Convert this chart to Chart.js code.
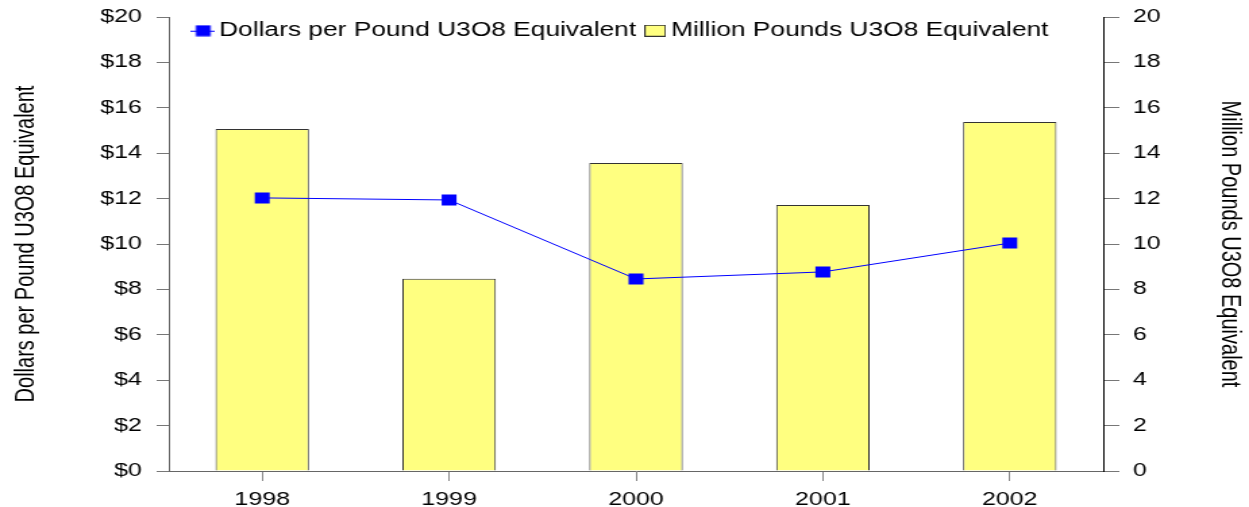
<!DOCTYPE html>
<html>
<head>
<meta charset="utf-8">
<script src="https://cdn.jsdelivr.net/npm/chart.js@4/dist/chart.umd.min.js"></script>
<style>
  html, body { margin: 0; padding: 0; background: #fff; overflow: hidden; }
  /* the reference is stretched sideways, so draw narrow and scale x */
  #wrap { width: 925px; height: 507px; transform: scaleX(1.3503); transform-origin: 0 0; }
</style>
</head>
<body>
<div id="wrap"><canvas id="chart" width="925" height="507"></canvas></div>
<script>
// data
const years = ['1998', '1999', '2000', '2001', '2002'];
const pricePerPound = [12.03, 11.94, 8.46, 8.77, 10.04];   // dollars, left axis
const millionPounds = [15.07, 8.47, 13.57, 11.72, 15.37];   // right axis
const leftTicks = [0, 2, 4, 6, 8, 10, 12, 14, 16, 18, 20];

const FONT = 'Liberation Sans, Arial, Helvetica, sans-serif';

// legend symbols: line with square marker, and yellow box
function lineIcon() {
  const c = document.createElement('canvas');
  c.width = 18; c.height = 12;
  const g = c.getContext('2d');
  g.strokeStyle = '#0000ff'; g.lineWidth = 1;
  g.beginPath(); g.moveTo(0, 6.5); g.lineTo(18, 6.5); g.stroke();
  g.fillStyle = '#0000ff';
  g.fillRect(3.5, 0.5, 11, 11);
  return c;
}
function boxIcon() {
  const c = document.createElement('canvas');
  c.width = 16; c.height = 12;
  const g = c.getContext('2d');
  g.fillStyle = '#ffff80';
  g.fillRect(0.5, 0.5, 15, 11);
  g.strokeStyle = '#333'; g.lineWidth = 1;
  g.strokeRect(0.5, 0.5, 15, 11);
  return c;
}
const icons = [lineIcon(), boxIcon()];

// legend sits inside the plot area, so give it no height
const legendInside = {
  id: 'legendInside',
  beforeInit(chart) {
    const fit = chart.legend.fit;
    chart.legend.fit = function () {
      fit.bind(chart.legend)();
      this.height = 0;
    };
  },
  afterLayout(chart) {
    // legend clips to its own box, so open it up
    chart.legend.top = 9;
    chart.legend.bottom = 60;
  }
};

// fixed axis sizes, no extra label padding above the plot
function fixY(width) {
  return (s) => { s.width = width; s.paddingTop = 0; s.paddingBottom = 0; };
}

const ctx = document.getElementById('chart').getContext('2d');
new Chart(ctx, {
  type: 'bar',
  data: {
    labels: years,
    datasets: [{
      type: 'line',
      label: 'Dollars per Pound U3O8 Equivalent',
      data: pricePerPound,
      yAxisID: 'y',
      borderColor: '#0000ff',
      backgroundColor: '#0000ff',
      borderWidth: 1,
      pointStyle: 'rect',
      pointRadius: 7.8,
      pointBorderWidth: 0,
      order: 0
    }, {
      type: 'bar',
      label: 'Million Pounds U3O8 Equivalent',
      data: millionPounds,
      yAxisID: 'y1',
      backgroundColor: '#ffff80',
      borderColor: '#333',
      borderWidth: 1,
      barPercentage: 0.5,
      categoryPercentage: 1,
      order: 1
    }]
  },
  options: {
    responsive: false,
    animation: false,
    devicePixelRatio: 1,
    layout: { padding: { top: 17, left: 0, right: 0, bottom: 0 } },
    plugins: {
      tooltip: { enabled: false },
      legend: {
        display: true,
        position: 'top',
        labels: {
          usePointStyle: true,
          pointStyleWidth: 4,
          padding: 12,
          color: '#000',
          font: { family: FONT, size: 19.5 },
          generateLabels: (chart) => chart.data.datasets.map((ds, i) => ({
            text: ds.label,
            pointStyle: icons[i],
            fillStyle: ds.backgroundColor,
            strokeStyle: ds.borderColor,
            lineWidth: 0,
            hidden: false,
            datasetIndex: i
          }))
        }
      }
    },
    scales: {
      x: {
        offset: true,
        afterFit: (s) => { s.height = 36; },
        border: { display: true, color: '#666', width: 1 },
        grid: { display: true, offset: false, drawOnChartArea: false, tickLength: 10, color: '#888' },
        ticks: { color: '#000', padding: 8, font: { family: FONT, size: 18.5 } }
      },
      y: {
        position: 'left',
        min: 0, max: 20,
        afterFit: fixY(125),
        afterBuildTicks: (s) => { s.ticks = leftTicks.map(v => ({ value: v })); },
        border: { display: true, color: '#666', width: 1 },
        grid: { display: true, drawOnChartArea: false, tickLength: 9, color: '#777' },
        ticks: { color: '#000', padding: 11, font: { family: FONT, size: 18.5 }, callback: (v) => '$' + v },
        title: {
          display: true,
          text: 'Dollars per Pound U3O8 Equivalent',
          color: '#000',
          padding: { top: 7.5, bottom: 0 },
          font: { family: FONT, size: 20 }
        }
      },
      y1: {
        position: 'right',
        min: 0, max: 20,
        afterFit: fixY(108),
        afterBuildTicks: (s) => { s.ticks = leftTicks.map(v => ({ value: v })); },
        border: { display: true, color: '#000', width: 1 },
        grid: { display: true, drawOnChartArea: false, tickLength: 12, color: '#777' },
        ticks: { color: '#000', padding: 10, font: { family: FONT, size: 18.5 } },
        title: {
          display: true,
          text: 'Million Pounds U3O8 Equivalent',
          color: '#000',
          padding: { top: 2, bottom: 0 },
          font: { family: FONT, size: 20 }
        }
      }
    }
  },
  plugins: [legendInside]
});
</script>
</body>
</html>
